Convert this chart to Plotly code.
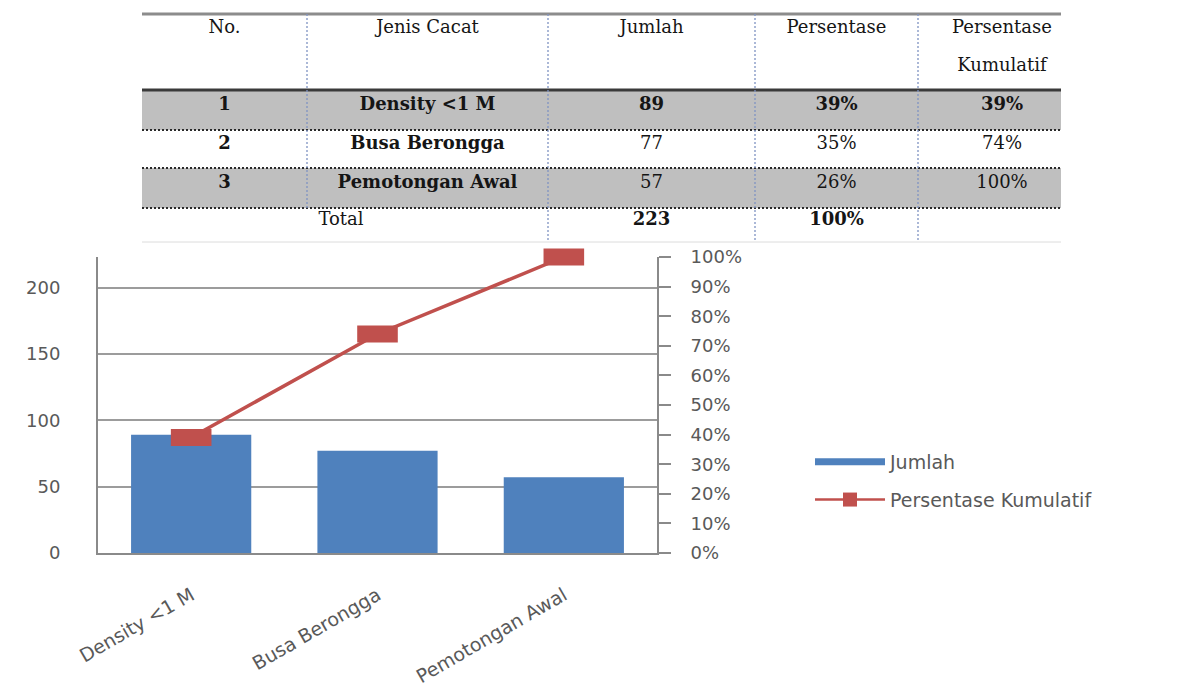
import plotly.graph_objects as go

# ---------------- data ----------------
categories = ["Density <1 M", "Busa Berongga", "Pemotongan Awal"]
nomor = [1, 2, 3]
jumlah = [89, 77, 57]
persentase = [39, 35, 26]          # %
kumulatif = [39, 74, 100]          # %
total_jumlah = 223
total_persen = 100
header_line1 = ["No.", "Jenis Cacat", "Jumlah", "Persentase", "Persentase"]
header_line2 = ["", "", "", "", "Kumulatif"]
total_label = "Total"
left_ticks = [0, 50, 100, 150, 200]
right_ticks = [0, 10, 20, 30, 40, 50, 60, 70, 80, 90, 100]
right_tick_text = [f"{v}%" for v in right_ticks]

# ---------------- styling / layout ----------------
W, H = 1199, 695
BLUE = "#4F81BD"
RED = "#C0504D"
AXIS = "#8a8a8a"
GRID = "#9c9c9c"
LABEL = "#595959"
SANS = "DejaVu Sans"
SERIF = "DejaVu Serif"

# main chart plot box (page pixels)
PL, PR, PT, PB = 98, 657, 257, 553
# table box (page pixels)
TX0, TX1, TY0, TY1 = 142, 1061, 8, 246
col_edges = [142, 307, 548, 755, 918, 1086]
row_edges = [14, 90, 130, 168, 208, 242]
header_y = [28, 66]
row_text_y = [105, 144, 183]
total_text_y = 220
bold_rows = [True, False, False]

col_centers = [(col_edges[i] + col_edges[i + 1]) / 2 for i in range(5)]

fig = go.Figure()

# ---------------- Pareto chart ----------------
fig.add_trace(go.Bar(
    x=categories, y=jumlah, name="Jumlah", marker=dict(color=BLUE, line=dict(width=0)),
    width=0.645, showlegend=False, xaxis="x", yaxis="y", hoverinfo="x+y"))

fig.add_trace(go.Scatter(
    x=categories, y=kumulatif, name="Persentase Kumulatif", mode="lines+markers",
    line=dict(color=RED, width=3.5),
    marker=dict(symbol="line-ew", size=29, color=RED, line=dict(color=RED, width=17)),
    showlegend=False, xaxis="x", yaxis="y2", cliponaxis=False))

# legend entries
fig.add_trace(go.Scatter(
    x=[None], y=[None], name="Jumlah", mode="lines",
    line=dict(color=BLUE, width=7), legendgroup="a", xaxis="x", yaxis="y"))
fig.add_trace(go.Scatter(
    x=[None], y=[None], name="Persentase Kumulatif", mode="lines+markers",
    line=dict(color=RED, width=2.5), marker=dict(symbol="square", size=14, color=RED),
    legendgroup="b", xaxis="x", yaxis="y2"))

# ---------------- table (drawn on its own hidden axes, in page pixels) ----------------
tx, ty, tt = [], [], []
for c in range(5):
    tx.append(col_centers[c]); ty.append(header_y[0]); tt.append(header_line1[c])
    if header_line2[c]:
        tx.append(col_centers[c]); ty.append(header_y[1]); tt.append(header_line2[c])
for r in range(len(categories)):
    cells = [str(nomor[r]), categories[r], str(jumlah[r]),
             f"{persentase[r]}%", f"{kumulatif[r]}%"]
    for c, s in enumerate(cells):
        bold = c < 2 or bold_rows[r]
        tx.append(col_centers[c]); ty.append(row_text_y[r])
        tt.append(f"<b>{s}</b>" if bold else s)
tx.append((col_edges[0] + col_edges[2]) / 2 - 4); ty.append(total_text_y); tt.append(total_label)
tx.append(col_centers[2]); ty.append(total_text_y); tt.append(f"<b>{total_jumlah}</b>")
tx.append(col_centers[3]); ty.append(total_text_y); tt.append(f"<b>{total_persen}%</b>")

fig.add_trace(go.Scatter(
    x=tx, y=ty, text=tt, mode="text", textposition="middle center",
    textfont=dict(family=SERIF, size=18, color="#151515"),
    showlegend=False, hoverinfo="skip", xaxis="x3", yaxis="y3", cliponaxis=True))

shapes = []
# grey rows (rows 1 and 3)
for r in (0, 2):
    shapes.append(dict(type="rect", xref="x3", yref="y3", layer="below",
                       x0=col_edges[0], x1=col_edges[-1],
                       y0=row_edges[r + 1], y1=row_edges[r + 2],
                       fillcolor="#BFBFBF", line=dict(width=0)))
# top double border
shapes.append(dict(type="line", xref="x3", yref="y3", x0=col_edges[0], x1=col_edges[-1],
                   y0=row_edges[0], y1=row_edges[0], line=dict(color="#8c8c8c", width=3)))
# header bottom
shapes.append(dict(type="line", xref="x3", yref="y3", x0=col_edges[0], x1=col_edges[-1],
                   y0=row_edges[1], y1=row_edges[1], line=dict(color="#3a3a3a", width=3)))
# dotted row separators
for yv in row_edges[2:5]:
    shapes.append(dict(type="line", xref="x3", yref="y3", x0=col_edges[0], x1=col_edges[-1],
                       y0=yv, y1=yv, line=dict(color="#2a2a2a", width=2, dash="2px,2px")))
# faint bottom
shapes.append(dict(type="line", xref="x3", yref="y3", x0=col_edges[0], x1=col_edges[-1],
                   y0=row_edges[5], y1=row_edges[5], line=dict(color="#dcdcdc", width=1)))
# vertical dotted separators
for i, xv in enumerate(col_edges[1:5]):
    y_end = row_edges[4] if i == 0 else row_edges[5]
    shapes.append(dict(type="line", xref="x3", yref="y3", x0=xv, x1=xv,
                       y0=row_edges[0], y1=y_end,
                       line=dict(color="#7f93c2", width=1.3, dash="2px,2px")))

fig.update_layout(
    width=W, height=H, autosize=False, template="none",
    margin=dict(l=0, r=0, t=0, b=0, pad=0),
    paper_bgcolor="white", plot_bgcolor="rgba(0,0,0,0)",
    font=dict(family=SANS, size=18, color=LABEL),
    shapes=shapes,
    bargap=0.3,
    xaxis=dict(domain=[PL / W, PR / W], anchor="y", type="category",
               range=[-0.5, 2.5], showline=True, linecolor=AXIS, linewidth=2,
               ticks="", showgrid=False, zeroline=False, tickangle=-30,
               tickfont=dict(family=SANS, size=19, color=LABEL),
               ticklabelstandoff=22, fixedrange=True),
    yaxis=dict(domain=[1 - PB / H, 1 - PT / H], anchor="x",
               range=[0, total_jumlah], tickvals=left_ticks,
               showgrid=True, gridcolor=GRID, gridwidth=1.6,
               showline=True, linecolor=AXIS, linewidth=2, zeroline=False,
               ticks="", tickfont=dict(family=SANS, size=18, color=LABEL),
               ticklabelstandoff=32, fixedrange=True),
    yaxis2=dict(overlaying="y", side="right", anchor="x",
                range=[0, total_persen], tickmode="array",
                tickvals=right_ticks, ticktext=right_tick_text,
                ticks="outside", ticklen=12, tickwidth=2, tickcolor=AXIS,
                showline=True, linecolor=AXIS, linewidth=2,
                showgrid=False, zeroline=False,
                tickfont=dict(family=SANS, size=18, color=LABEL),
                ticklabelstandoff=16, fixedrange=True),
    xaxis3=dict(domain=[TX0 / W, TX1 / W], anchor="y3", range=[TX0, TX1],
                visible=False, fixedrange=True),
    yaxis3=dict(domain=[1 - TY1 / H, 1 - TY0 / H], anchor="x3", range=[TY1, TY0],
                visible=False, fixedrange=True),
    legend=dict(x=810 / W, y=1 - 443 / H, xanchor="left", yanchor="top",
                bgcolor="rgba(0,0,0,0)", itemwidth=70, tracegroupgap=10,
                font=dict(family=SANS, size=19, color=LABEL)),
)

fig.write_html("out.html")
